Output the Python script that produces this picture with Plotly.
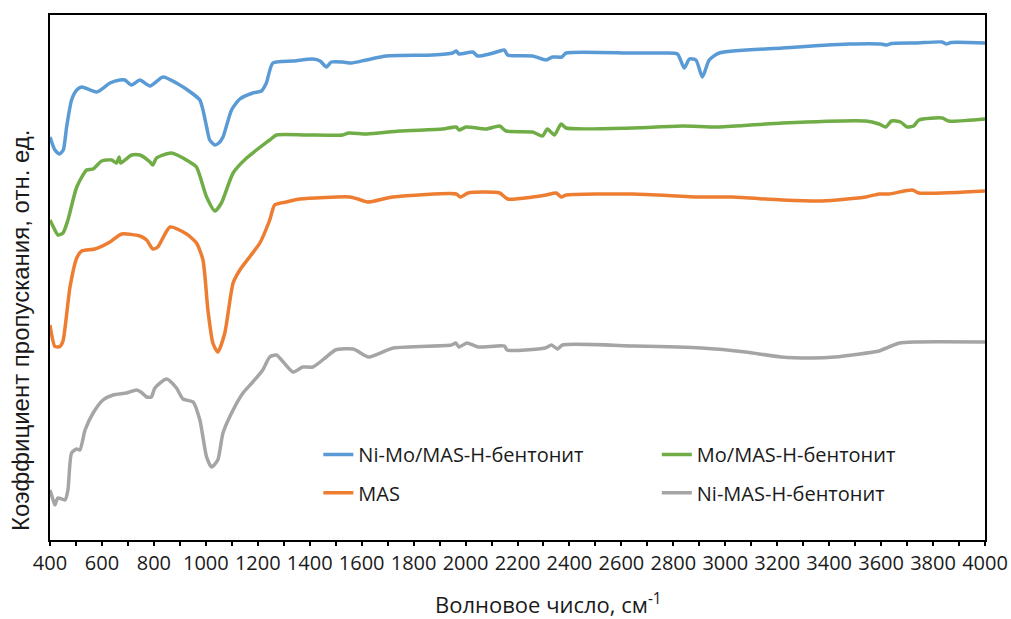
import plotly.graph_objects as go

# FTIR spectra, transmittance in relative units (curves are vertically offset)
wn_nimo = [400, 419, 436, 451, 464, 483, 503, 522, 580, 631, 669, 688, 714, 746, 785, 835, 887,
           951, 977, 989, 1003, 1015, 1035, 1050, 1066, 1099, 1131, 1181, 1214, 1233, 1258, 1335,
           1412, 1440, 1464, 1483, 1527, 1560, 1618, 1695, 1874, 1950, 1964, 1975, 2028, 2046,
           2092, 2131, 2150, 2162, 2258, 2310, 2335, 2370, 2387, 2643, 2772, 2816, 2842, 2862,
           2887, 2912, 2938, 2977, 3220, 3477, 3600, 3620, 3640, 3733, 3835, 3850, 3870, 4000]
t_nimo = [80.6, 78.0, 77.2, 78.0, 82.6, 88.0, 90.0, 90.6, 89.6, 91.4, 92.0, 92.0, 91.0, 92.0,
          90.8, 92.6, 91.4, 89.2, 88.0, 86.0, 82.6, 80.0, 79.0, 79.4, 80.6, 86.0, 88.2, 89.4,
          89.8, 91.4, 95.4, 95.8, 96.2, 95.8, 94.6, 95.6, 95.6, 95.4, 96.0, 96.8, 97.0, 97.4,
          97.8, 97.2, 97.6, 96.8, 97.2, 97.8, 98.0, 97.0, 96.8, 96.0, 96.6, 96.6, 97.4, 97.4,
          97.4, 97.2, 94.4, 96.2, 96.0, 92.6, 96.0, 97.4, 98.4, 99.2, 99.2, 99.0, 99.3, 99.4,
          99.6, 99.2, 99.5, 99.4]

wn_mo = [400, 415, 431, 450, 469, 503, 541, 566, 599, 637, 656, 666, 672, 714, 746, 785, 796,
         810, 868, 938, 964, 1003, 1035, 1060, 1105, 1157, 1246, 1272, 1387, 1527, 1550, 1620,
         1746, 1912, 1964, 1975, 2002, 2080, 2131, 2156, 2258, 2296, 2315, 2342, 2368, 2387,
         2643, 2835, 2977, 3220, 3541, 3592, 3618, 3640, 3675, 3700, 3725, 3746, 3835, 3860, 4000]
t_mo = [64.0, 62.4, 61.0, 61.4, 64.0, 70.6, 74.0, 74.2, 75.8, 76.0, 75.4, 76.6, 75.4, 77.0,
        77.0, 75.6, 75.0, 76.4, 77.4, 75.6, 74.6, 68.6, 65.8, 67.4, 73.4, 76.4, 80.0, 81.0,
        81.0, 81.0, 81.4, 81.2, 81.8, 82.2, 82.6, 82.0, 82.6, 82.2, 82.8, 81.8, 81.6, 80.8,
        82.2, 81.0, 83.2, 82.4, 82.4, 82.8, 82.6, 83.4, 83.8, 83.2, 82.6, 83.8, 83.6, 82.6,
        82.8, 84.0, 84.4, 83.8, 84.2]

wn_mas = [400, 419, 438, 450, 477, 503, 522, 573, 631, 676, 746, 772, 796, 815, 862, 926, 964,
          989, 1008, 1027, 1046, 1073, 1105, 1131, 1208, 1246, 1265, 1310, 1362, 1554, 1585,
          1623, 1720, 1964, 1980, 2010, 2131, 2162, 2258, 2310, 2349, 2368, 2387, 2643, 2900,
          3027, 3220, 3373, 3541, 3592, 3630, 3720, 3746, 4000]
t_mas = [43.0, 38.7, 38.7, 39.8, 50.6, 56.4, 57.8, 58.2, 59.6, 61.2, 60.8, 60.0, 58.2, 58.6,
         62.6, 61.2, 59.4, 56.0, 46.0, 39.4, 37.6, 41.4, 51.4, 54.0, 59.4, 64.0, 67.0, 67.6,
         68.2, 68.6, 68.2, 67.6, 68.6, 69.2, 68.6, 69.4, 69.4, 68.2, 68.6, 69.0, 69.4, 68.6,
         69.0, 69.2, 68.6, 68.6, 68.0, 67.8, 68.6, 69.2, 69.2, 70.0, 69.4, 69.8]

wn_ni = [400, 412, 419, 430, 458, 469, 483, 503, 515, 535, 566, 604, 643, 695, 733, 750, 772,
         790, 804, 849, 887, 912, 951, 977, 1003, 1022, 1046, 1066, 1105, 1143, 1181, 1219,
         1246, 1272, 1335, 1373, 1412, 1464, 1499, 1568, 1627, 1722, 1945, 1962, 1975, 2005,
         2048, 2150, 2160, 2306, 2331, 2354, 2373, 2649, 2907, 3078, 3215, 3335, 3422, 3592,
         3611, 3671, 3731, 4000]
t_ni = [10.0, 8.0, 7.0, 8.4, 8.0, 10.0, 17.4, 18.2, 18.0, 22.0, 25.4, 28.0, 29.0, 29.4, 30.0,
        29.6, 28.6, 28.6, 30.4, 32.2, 30.4, 28.2, 27.6, 24.0, 16.6, 14.6, 16.0, 21.4, 26.0,
        29.4, 31.6, 34.0, 36.6, 37.0, 33.6, 34.6, 34.6, 36.6, 38.0, 38.2, 36.6, 38.4, 39.0,
        39.4, 38.6, 39.4, 38.6, 38.8, 38.0, 38.4, 39.0, 38.2, 39.0, 38.8, 38.4, 37.6, 36.6,
        36.4, 36.6, 37.8, 38.2, 39.4, 39.6, 39.6]

names = ["Ni-Mo/MAS-H-бентонит", "Mo/MAS-H-бентонит", "MAS", "Ni-MAS-H-бентонит"]
colors = ["#5B9BD5", "#70AD47", "#ED7D31", "#A5A5A5"]
series = [(wn_nimo, t_nimo), (wn_mo, t_mo), (wn_mas, t_mas), (wn_ni, t_ni)]

# legend grid: two columns, two rows inside the plot area
legend_ids = ["legend", "legend2", "legend3", "legend4"]
legend_x = [0.287, 0.649, 0.287, 0.649]
legend_y = [0.2, 0.2, 0.127, 0.127]

x_ticks = list(range(400, 4001, 200))

fig = go.Figure()
for (x, y), name, color, lg in zip(series, names, colors, legend_ids):
    fig.add_trace(go.Scatter(
        x=x, y=y, name=name, mode="lines", legend=lg,
        line=dict(color=color, width=3.5, shape="spline", smoothing=0.6),
    ))

text_color = "#1a1a1a"
legend_font = dict(family="Open Sans", size=20, color=text_color)
legends = {
    lg: dict(x=lx, y=ly, xanchor="left", yanchor="top", font=legend_font,
             bgcolor="rgba(0,0,0,0)", itemwidth=30)
    for lg, lx, ly in zip(legend_ids, legend_x, legend_y)
}

fig.update_layout(
    width=1011, height=619,
    margin=dict(l=50, r=26, t=15, b=79),
    paper_bgcolor="white", plot_bgcolor="white",
    showlegend=True,
    **legends,
    xaxis=dict(
        range=[400, 4000], tickmode="array", tickvals=x_ticks,
        ticktext=[str(v) for v in x_ticks], automargin=False,
        ticks="outside", ticklen=4, tickwidth=1.5, tickcolor="black",
        minor=dict(tickmode="linear", tick0=400, dtick=100, ticks="outside",
                   ticklen=4, tickwidth=1.5, tickcolor="black", showgrid=False),
        showline=True, linecolor="black", linewidth=1.8, mirror=True,
        showgrid=False, zeroline=False,
        tickfont=dict(family="Open Sans", size=20, color=text_color),
    ),
    xaxis2=dict(
        overlaying="x", anchor="y", side="bottom", range=[400, 4000], automargin=False,
        tickmode="linear", tick0=400, dtick=100, ticks="inside", ticklen=4,
        tickwidth=1.5, tickcolor="black", showticklabels=False,
        showline=False, showgrid=False, zeroline=False,
    ),
    yaxis=dict(
        range=[0, 105], showticklabels=False, ticks="", showgrid=False, zeroline=False,
        showline=True, linecolor="black", linewidth=1.8, mirror=True, automargin=False,
    ),
    annotations=[
        dict(text="Коэффициент пропускания, отн. ед.", textangle=-90,
             xref="paper", yref="paper", x=-0.032, y=0.40, xanchor="center",
             yanchor="middle", showarrow=False,
             font=dict(family="Liberation Sans", size=24, color=text_color)),
        dict(text="Волновое число, см<sup>-1</sup>",
             xref="paper", yref="paper", x=0.533, y=-0.121, xanchor="center",
             yanchor="middle", showarrow=False,
             font=dict(family="Open Sans", size=22, color=text_color)),
    ],
)

fig.write_html("out.html")
